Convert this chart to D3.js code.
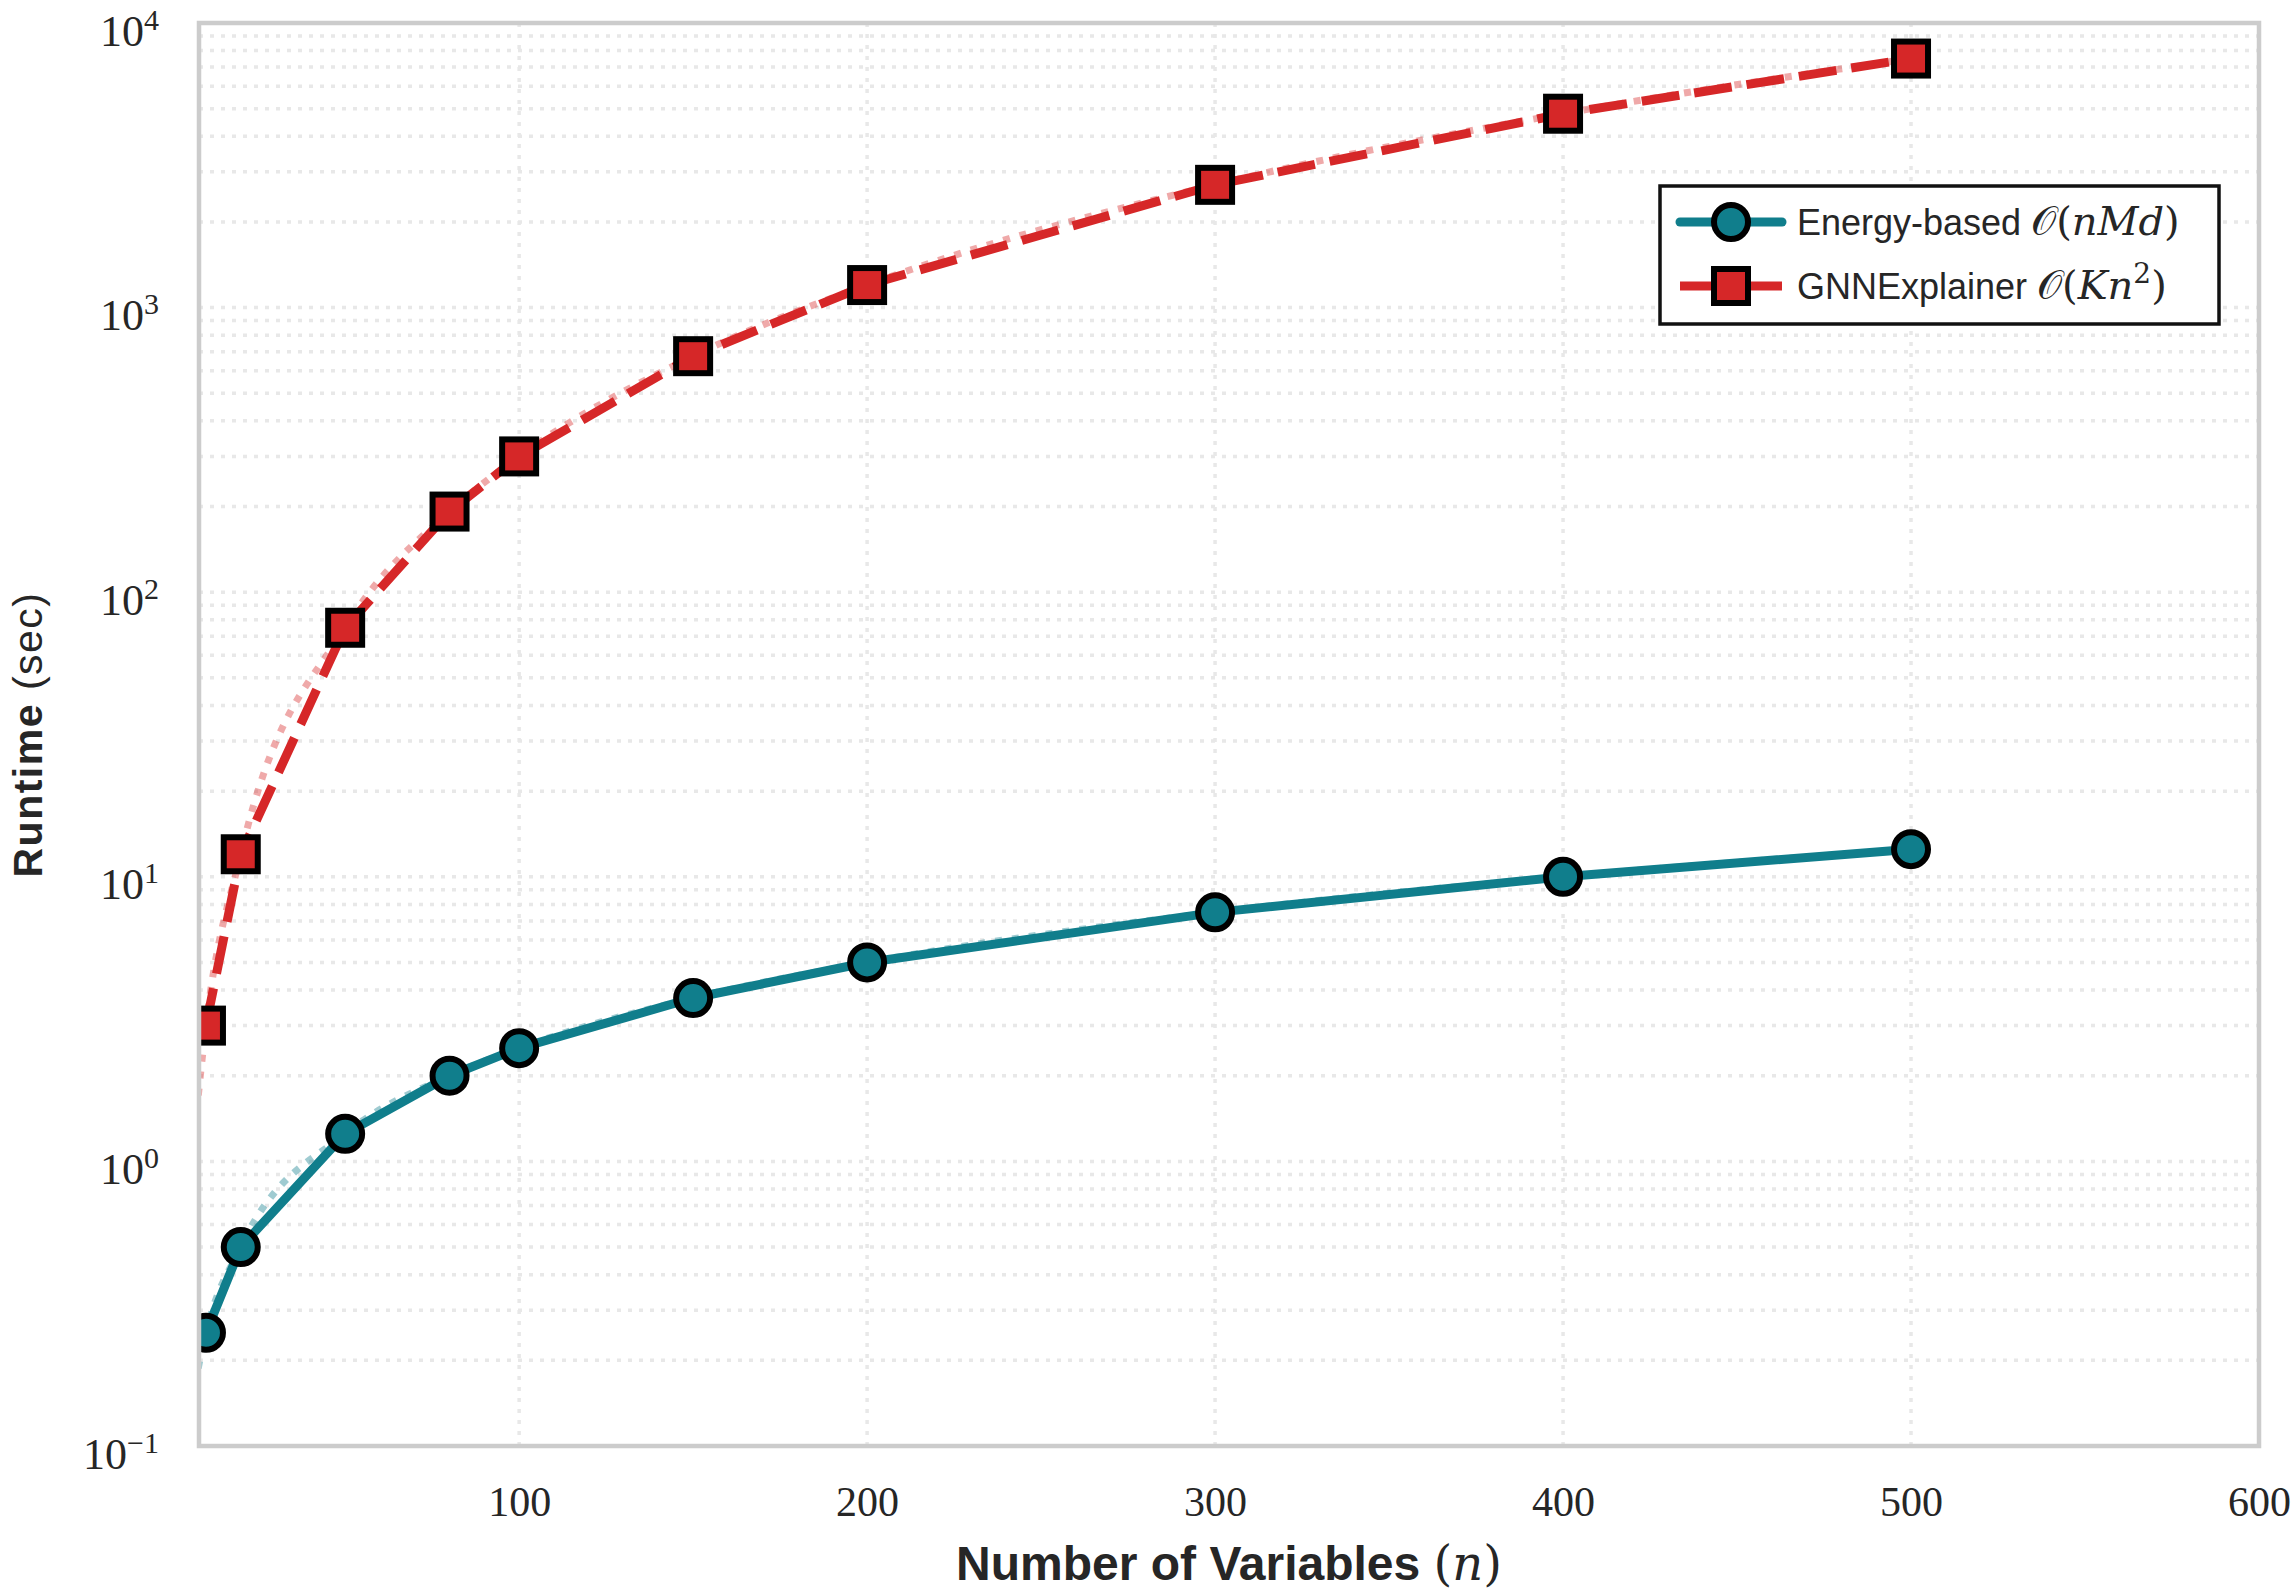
<!DOCTYPE html>
<html>
<head>
<meta charset="utf-8">
<script src="https://cdn.jsdelivr.net/npm/d3@7"></script>
<style>
  body { margin: 0; background: #fff; }
  svg { display: block; }
</style>
</head>
<body>
<svg id="chart"></svg>
<script>
// measured runtimes (sec)
const numVariables = [10, 20, 50, 80, 100, 150, 200, 300, 400, 500];
const energyRuntime = [0.25, 0.5, 1.25, 2, 2.5, 3.75, 5, 7.5, 10, 12.5];
const gnnRuntime = [3, 12, 75, 192, 300, 675, 1200, 2700, 4800, 7500];

// faint theoretical curves
const fitVariables = [5, 10, 20, 50, 80, 100, 150, 200, 300, 400, 500];
const energyFit = [0.125, 0.25, 0.5, 1.25, 2, 2.5, 3.75, 5, 7.5, 10, 12.5];
const gnnFit = [0.75, 3, 12, 75, 192, 300, 675, 1200, 2700, 4800, 7500];

const xTicks = [100, 200, 300, 400, 500, 600];
const yTicks = [0.1, 1, 10, 100, 1000, 10000];

const teal = "#107e8c";
const red = "#d62728";
const textColor = "#262626";
const serif = "'Liberation Serif', 'DejaVu Serif', serif";
const mathFont = "'DejaVu Serif', 'Liberation Serif', serif";
const sans = "'Liberation Sans', 'DejaVu Sans', sans-serif";

const width = 2291, height = 1592;
const plot = { left: 199, right: 2259, top: 23, bottom: 1446 };

const svg = d3.select("#chart").attr("width", width).attr("height", height);

const x = d3.scaleLinear().domain([8, 600]).range([plot.left, plot.right]);
const y = d3.scaleLog().domain([0.1, 10000]).range([plot.bottom, plot.top]);

svg.append("defs").append("clipPath").attr("id", "plotClip")
  .append("rect")
  .attr("x", plot.left).attr("y", plot.top)
  .attr("width", plot.right - plot.left).attr("height", plot.bottom - plot.top);

// grid
const grid = svg.append("g")
  .attr("stroke", "#e8e8e8")
  .attr("stroke-width", 3.5)
  .attr("stroke-dasharray", "4,7");

grid.selectAll("line.h")
  .data(y.ticks())
  .enter().append("line")
  .attr("x1", plot.left).attr("x2", plot.right)
  .attr("y1", d => y(d)).attr("y2", d => y(d));

grid.selectAll("line.v")
  .data(xTicks)
  .enter().append("line")
  .attr("x1", d => x(d)).attr("x2", d => x(d))
  .attr("y1", plot.top).attr("y2", plot.bottom);

// axes
const xAxis = svg.append("g")
  .attr("transform", `translate(0,${plot.bottom})`)
  .call(d3.axisBottom(x).tickValues(xTicks).tickSize(0).tickPadding(40).tickFormat(d3.format("d")));
xAxis.select(".domain").remove();
xAxis.selectAll("text")
  .attr("font-family", serif)
  .attr("font-size", 42)
  .attr("fill", textColor);

const yAxis = svg.append("g")
  .attr("transform", `translate(${plot.left},0)`)
  .call(d3.axisLeft(y).tickValues(yTicks).tickSize(0).tickPadding(40).tickFormat(() => ""));
yAxis.select(".domain").remove();
yAxis.selectAll("text").each(function(d) {
  const t = d3.select(this)
    .attr("font-family", serif)
    .attr("font-size", 44)
    .attr("fill", textColor)
    .attr("dy", "0.5em");
  const e = Math.round(Math.log10(d));
  t.append("tspan").text("10");
  t.append("tspan")
    .attr("font-size", 30)
    .attr("dy", -16)
    .text(e < 0 ? "\u2212" + (-e) : String(e));
});

// data
const clipped = svg.append("g").attr("clip-path", "url(#plotClip)");

const smooth = d3.line()
  .x(d => x(d[0]))
  .y(d => y(d[1]))
  .curve(d3.curveMonotoneX);
const straight = d3.line()
  .x(d => x(d[0]))
  .y(d => y(d[1]));

clipped.append("path")
  .datum(d3.zip(fitVariables, energyFit))
  .attr("d", smooth)
  .attr("fill", "none")
  .attr("stroke", teal)
  .attr("stroke-opacity", 0.4)
  .attr("stroke-width", 7)
  .attr("stroke-dasharray", "7,10");

clipped.append("path")
  .datum(d3.zip(fitVariables, gnnFit))
  .attr("d", smooth)
  .attr("fill", "none")
  .attr("stroke", red)
  .attr("stroke-opacity", 0.4)
  .attr("stroke-width", 7)
  .attr("stroke-dasharray", "7,10");

clipped.append("path")
  .datum(d3.zip(numVariables, energyRuntime))
  .attr("d", straight)
  .attr("fill", "none")
  .attr("stroke", teal)
  .attr("stroke-width", 9)
  .attr("stroke-linejoin", "round")
  .attr("stroke-linecap", "round");

clipped.append("path")
  .datum(d3.zip(numVariables, gnnRuntime))
  .attr("d", straight)
  .attr("fill", "none")
  .attr("stroke", red)
  .attr("stroke-width", 9)
  .attr("stroke-dasharray", "38,15");

const sq = 34;
const mStroke = 6;
clipped.selectAll("rect.gnn")
  .data(d3.zip(numVariables, gnnRuntime))
  .enter().append("rect")
  .attr("x", d => x(d[0]) - sq / 2)
  .attr("y", d => y(d[1]) - sq / 2)
  .attr("width", sq).attr("height", sq)
  .attr("fill", red)
  .attr("stroke", "#000")
  .attr("stroke-width", mStroke);

clipped.selectAll("circle.energy")
  .data(d3.zip(numVariables, energyRuntime))
  .enter().append("circle")
  .attr("cx", d => x(d[0]))
  .attr("cy", d => y(d[1]))
  .attr("r", 17)
  .attr("fill", teal)
  .attr("stroke", "#000")
  .attr("stroke-width", mStroke);

// frame
svg.append("rect")
  .attr("x", plot.left).attr("y", plot.top)
  .attr("width", plot.right - plot.left).attr("height", plot.bottom - plot.top)
  .attr("fill", "none")
  .attr("stroke", "#cccccc")
  .attr("stroke-width", 4.5);

// axis titles
const xTitle = svg.append("text")
  .attr("x", (plot.left + plot.right) / 2)
  .attr("y", 1580)
  .attr("text-anchor", "middle")
  .attr("fill", textColor)
  .attr("font-size", 48);
xTitle.append("tspan").attr("font-family", sans).attr("font-weight", "bold").text("Number of Variables ");
xTitle.append("tspan").attr("font-family", mathFont).text("(");
xTitle.append("tspan").attr("font-family", mathFont).attr("font-style", "italic").text("n");
xTitle.append("tspan").attr("font-family", mathFont).text(")");

const yTitle = svg.append("text")
  .attr("transform", `translate(42,${(plot.top + plot.bottom) / 2}) rotate(-90)`)
  .attr("text-anchor", "middle")
  .attr("fill", textColor)
  .attr("font-family", sans)
  .attr("font-size", 41)
  .attr("letter-spacing", 1.5);
yTitle.append("tspan").attr("font-weight", "bold").text("Runtime ");
yTitle.append("tspan").text("(sec)");

// legend
const legend = svg.append("g");
legend.append("rect")
  .attr("x", 1660).attr("y", 186)
  .attr("width", 559).attr("height", 138)
  .attr("fill", "#fff")
  .attr("stroke", "#111")
  .attr("stroke-width", 3.5);

const legendItems = [
  { color: teal, marker: "circle", text: "Energy-based ", math: [["\u{1D4AA}", "n"], ["(", "n"], ["nMd", "i"], [")", "n"]] },
  { color: red, marker: "square", text: "GNNExplainer ", math: [["\u{1D4AA}", "n"], ["(", "n"], ["Kn", "i"], ["2", "s"], [")", "n"]] }
];

legendItems.forEach((item, i) => {
  const cy = 222 + i * 64;
  const g = legend.append("g");
  g.append("line")
    .attr("x1", 1680).attr("x2", 1782)
    .attr("y1", cy).attr("y2", cy)
    .attr("stroke", item.color)
    .attr("stroke-width", 9)
    .attr("stroke-linecap", item.marker === "circle" ? "round" : "butt");
  if (item.marker === "circle") {
    g.append("circle").attr("cx", 1731).attr("cy", cy).attr("r", 17)
      .attr("fill", item.color).attr("stroke", "#000").attr("stroke-width", mStroke);
  } else {
    g.append("rect").attr("x", 1731 - sq / 2).attr("y", cy - sq / 2).attr("width", sq).attr("height", sq)
      .attr("fill", item.color).attr("stroke", "#000").attr("stroke-width", mStroke);
  }
  const t = g.append("text")
    .attr("x", 1797).attr("y", cy + 13)
    .attr("fill", textColor)
    .attr("font-size", 36);
  t.append("tspan").attr("font-family", sans).text(item.text);
  item.math.forEach(([s, kind]) => {
    const sp = t.append("tspan").attr("font-family", mathFont).attr("font-size", 40).text(s);
    if (kind === "i") sp.attr("font-style", "italic");
    if (kind === "s") sp.attr("font-size", 28).attr("dy", -16);
    if (kind === "n" && s === ")" && item.math.some(m => m[1] === "s")) sp.attr("dy", 16);
  });
});
</script>
</body>
</html>
